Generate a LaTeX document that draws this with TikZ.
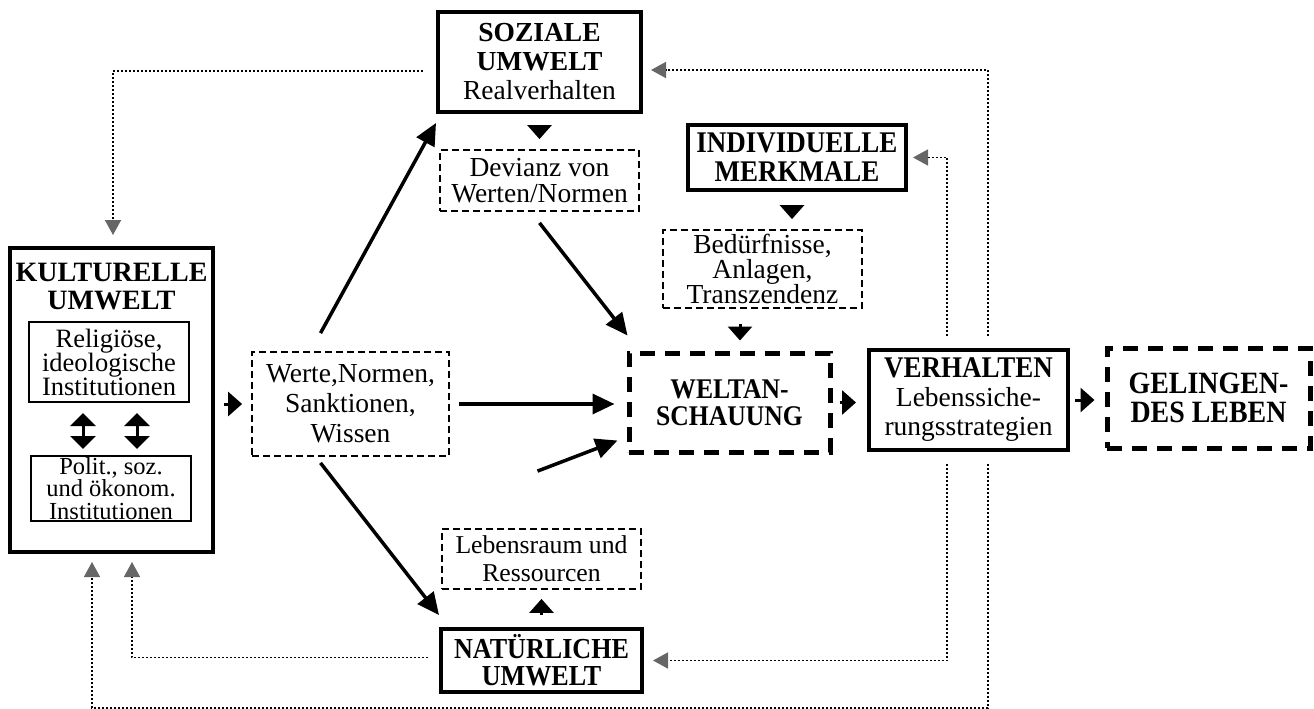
\documentclass[tikz,border=0pt]{standalone}
\usepackage{fontspec}
\setmainfont{Liberation Serif}
\newfontfamily\schmalfont[FakeStretch=0.9]{Liberation Serif}
\usetikzlibrary{arrows.meta}
\newcommand{\schrift}[2][27.5]{\fontsize{#1}{#2}\selectfont\lineskiplimit=-100pt\lineskip=0pt\relax}

\begin{document}
\begin{tikzpicture}[x=1pt,y=-1pt,>=Triangle,font=\schrift{30}]
		\tikzstyle{box}=[draw,inner sep=0pt,align=center]
		\tikzstyle{solidbox}=[box,line width=4pt]
		\tikzstyle{innerbox}=[box,line width=2pt]
		\tikzstyle{dashbox}=[box,line width=1.8pt,dash pattern=on 7pt off 4pt]
		\tikzstyle{heavydash}=[box,line width=5pt,dash pattern=on 15pt off 10pt]
		\tikzstyle{arr}=[-{Triangle[length=14pt,width=24pt]},line width=3pt]
		\tikzstyle{dblarr}=[{Triangle[length=13pt,width=25pt]}-{Triangle[length=13pt,width=25pt]},line width=3pt]
		\tikzstyle{longarr}=[-{Triangle[length=22pt,width=20pt]},line width=3.5pt]
		\tikzstyle{feedback}=[-{Triangle[length=15pt,width=16pt,color=black!60]},line width=1.6pt,dash pattern=on 1.6pt off 2.4pt]
		
		\useasboundingbox (0,0) rectangle (1314,709);
		
		\node[solidbox,minimum width=203,minimum height=304] (kult)  at (111.5,400)  {};
		\node[align=center,font={\schrift[28]{28}\bfseries}] (kulttitel) at (111.5,287) {KULTURELLE\\UMWELT};
		\node[innerbox,minimum width=160,minimum height=80,font={\schrift[26.5]{24}}] (reli)  at (109,362)  {Religiöse,\\ideologische\\Institutionen};
		\node[innerbox,minimum width=160,minimum height=65,font={\schrift[24.5]{22.3}}] (polit) at (111,488.5) {Polit., soz.\\und ökonom.\\Institutionen};
		
		\node[dashbox,minimum width=197,minimum height=104]                      (werte) at (350.5,404) {Werte,Normen,\\Sanktionen,\\Wissen};
		\node[solidbox,minimum width=203,minimum height=100,font={\schrift{29}}] (soz)   at (539.5,62)  {\textbf{SOZIALE}\\\textbf{UMWELT}\\Realverhalten};
		\node[dashbox,minimum width=199,minimum height=61,font={\schrift{26}}]   (dev)   at (539.5,180.5) {Devianz von\\Werten/Normen};
		\node[dashbox,minimum width=199,minimum height=60,font={\schrift[25.7]{28}}] (leb) at (541.5,559) {Lebensraum und\\Ressourcen};
		\node[solidbox,minimum width=201,minimum height=63,font={\schmalfont\schrift[29]{27}\bfseries}] (nat) at (541.5,660.5) {NATÜRLICHE\\UMWELT};
		
		\node[solidbox,minimum width=218,minimum height=65,font={\schmalfont\schrift[30]{29}\bfseries}] (indiv) at (797,157.5) {INDIVIDUELLE\\MERKMALE};
		\node[dashbox,minimum width=199,minimum height=78,font={\schrift{25}}]   (bed)   at (762.5,269) {Bedürfnisse,\\Anlagen,\\Transzendenz};
		\node[heavydash,minimum width=201,minimum height=99,font={\schmalfont\schrift[28.5]{26.5}\bfseries}] (welt) at (729.5,402.5) {WELTAN-\\SCHAUUNG};
		\node[solidbox,minimum width=199,minimum height=100,font={\schrift{29}}] (verh)  at (968.5,400) {{\schmalfont\bfseries\fontsize{30}{29}\selectfont VERHALTEN}\\Lebenssiche-\\rungsstrategien};
		\node[heavydash,minimum width=203,minimum height=100,font={\schmalfont\schrift[31]{29}\bfseries}] (gel) at (1208.5,398) {GELINGEN-\\DES LEBEN};
		
		% solid arrows
		\draw[arr,shorten <=9pt,shorten >=9pt] (kult.east |- werte.west) -- (werte.west);
		\draw[longarr,shorten <=9pt,shorten >=12pt] (werte.east) -- (werte.east -| welt.west);
		\draw[longarr] ([xshift=-30pt,yshift=18pt]werte.north) -- ([yshift=-9pt]soz.south west);
		\draw[longarr] ([xshift=-30pt,yshift=-6pt]werte.south) -- ([yshift=12pt]nat.north west);
		\draw[longarr] ([yshift=-11pt]dev.south) -- ([xshift=1pt,yshift=15pt]welt.north west);
		\draw[longarr] ([xshift=-4pt,yshift=57pt]leb.north) -- ([xshift=-9pt,yshift=14pt]welt.south west);
		\draw[arr,shorten <=13pt,shorten >=10pt] (soz) -- (dev);
		\draw[arr,shorten <=16pt,shorten >=10pt] ([xshift=-5pt]indiv.south) -- ([xshift=-5pt]indiv.south |- bed.north);
		\draw[arr,shorten <=15pt,shorten >=10pt] ([xshift=-22.5pt]bed.south) -- ([xshift=-22.5pt]bed.south |- welt.north);
		\draw[arr,shorten <=7pt,shorten >=11pt] (welt.east) -- (welt.east -| verh.west);
		\draw[arr,shorten <=5pt,shorten >=10pt] (verh.east) -- (verh.east -| gel.west);
		\draw[arr,shorten <=12pt,shorten >=9pt] (nat) -- (leb);
		\draw[dblarr,shorten <=10pt,shorten >=6pt] ([xshift=-26pt]reli.south) -- ([xshift=-26pt]reli.south |- polit.north);
		\draw[dblarr,shorten <=10pt,shorten >=6pt] ([xshift=28pt]reli.south) -- ([xshift=28pt]reli.south |- polit.north);
		
		% dotted feedback
		\coordinate (ecke) at (92,708);
		\draw[feedback,shorten >=11pt] ([xshift=-13pt,yshift=-9pt]soz.west) -| ([xshift=1.5pt]kult.north);
		\draw[feedback,shorten <=12pt,shorten >=8pt] ([xshift=19.5pt]verh.north) |- ([yshift=-8pt]soz.east);
		\draw[feedback,shorten <=12pt,shorten >=5pt] ([xshift=-21.5pt]verh.north) |- (indiv.east);
		\draw[feedback,shorten <=12pt,shorten >=9pt] ([xshift=-21.5pt]verh.south) |- (nat.east);
		\draw[feedback,shorten <=12pt,shorten >=8pt] ([xshift=19.5pt]verh.south) |- (ecke) -- ([xshift=-19.5pt]kult.south);
		\draw[feedback,shorten >=8pt] ([xshift=-11pt,yshift=3pt]nat.west) -| ([xshift=20.5pt]kult.south);
\end{tikzpicture}
\end{document}
